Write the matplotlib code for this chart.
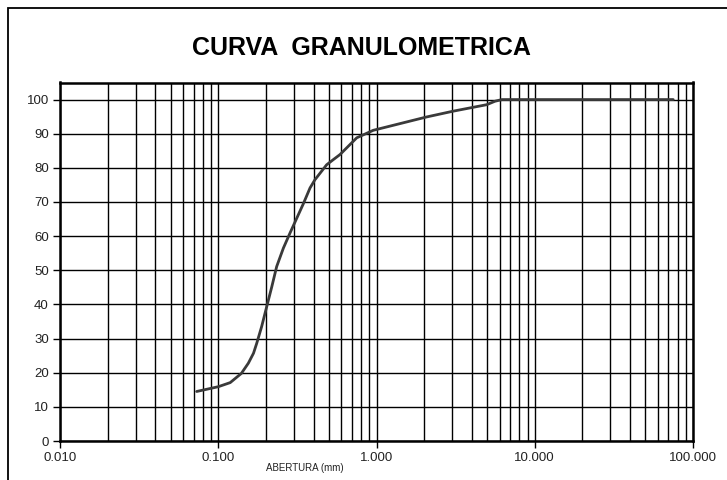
import matplotlib
matplotlib.use("Agg")
import matplotlib.pyplot as plt
from matplotlib.patches import Rectangle
from matplotlib.ticker import FixedLocator, LogLocator, NullFormatter

plt.rcParams['font.family'] = ['Liberation Sans', 'DejaVu Sans']

# Data (opening in mm, % passing)
abertura_mm = [0.073, 0.1, 0.119, 0.14, 0.155, 0.167, 0.175, 0.188, 0.2,
               0.218, 0.234, 0.258, 0.284, 0.345, 0.38, 0.408, 0.484, 0.533,
               0.588, 0.75, 0.846, 0.954, 2.07, 3.05, 4.97, 5.6, 6.2, 9.5, 75.0]
pct_pasa = [14.5, 15.9, 17.1, 19.8, 22.8, 25.7, 28.6, 33.5, 38.4,
            45.2, 51.1, 56.5, 60.9, 69.5, 74.1, 76.5, 80.9, 82.4,
            83.9, 88.8, 89.9, 91.0, 94.9, 96.6, 98.5, 99.5, 100.0, 100.0, 100.0]

x_ticks = [0.01, 0.1, 1.0, 10.0, 100.0]
x_tick_labels = ["0.010", "0.100", "1.000", "10.000", "100.000"]
y_ticks = [0, 10, 20, 30, 40, 50, 60, 70, 80, 90, 100]

W, H = 727, 480
fig = plt.figure(figsize=(W / 100, H / 100), dpi=100)
ax = fig.add_axes([60 / W, 1 - 441 / H, (693 - 60) / W, (441 - 82.5) / H])

ax.set_xscale('log')
ax.set_xlim(0.01, 100)
ax.set_ylim(0, 105)

ax.plot(abertura_mm, pct_pasa, color='#3a3a3a', lw=2.0, zorder=3,
        solid_capstyle='round', solid_joinstyle='round', antialiased=True)

ax.xaxis.set_major_locator(FixedLocator(x_ticks))
ax.set_xticklabels(x_tick_labels)
ax.xaxis.set_minor_locator(LogLocator(base=10, subs=range(2, 10)))
ax.xaxis.set_minor_formatter(NullFormatter())
ax.set_yticks(y_ticks)

ax.grid(True, which='both', axis='x', color='black', lw=1.0)
ax.grid(True, which='major', axis='y', color='black', lw=1.0)

ax.tick_params(axis='both', which='major', direction='out', length=5,
               width=1, labelsize=9.5, color='black', labelcolor='#222222', pad=3)
ax.tick_params(axis='x', which='minor', length=0)
ax.tick_params(axis='x', which='major', pad=3)

for s in ax.spines.values():
    s.set_linewidth(1.8)
    s.set_color('black')

fig.text(361 / W, 1 - 48 / H, "CURVA  GRANULOMETRICA", ha='center', va='center',
         fontsize=18, fontweight='bold', color='black')

fig.text(305 / W, 1 - 468 / H, "ABERTURA (mm)", ha='center', va='center',
         fontsize=7, color='#222222', zorder=10,
         bbox=dict(facecolor='white', edgecolor='none', pad=0.5))

# outer frame (left and top edges visible)
fig.patches.append(Rectangle((8 / W, -0.1), 1.2, 1.1 - 8 / H,
                             transform=fig.transFigure, fill=False,
                             edgecolor='black', lw=1.3))

fig.savefig("out.png", dpi=100, facecolor='white')
